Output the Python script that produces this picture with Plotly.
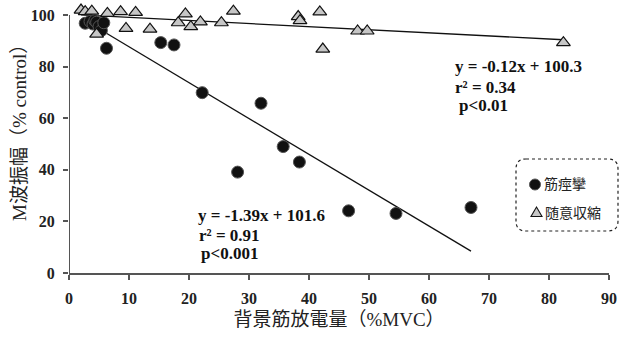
import plotly.graph_objects as go

# 筋痙攣 (cramp) data
cramp_x = [2.7, 3.5, 4.0, 4.3, 4.6, 5.0, 5.4, 5.8, 6.25, 15.3, 17.5, 22.2, 32.0, 35.7, 38.4, 28.1, 46.6, 54.5, 67.0]
cramp_y = [96.8, 97.5, 96.5, 97.8, 97.2, 95.5, 94.0, 97.0, 87.1, 89.3, 88.4, 69.9, 65.8, 49.0, 43.0, 39.1, 24.1, 23.1, 25.4]

# 随意収縮 (voluntary contraction) data
vol_x = [2.0, 2.7, 3.8, 6.4, 8.6, 11.1, 9.5, 13.5, 4.6, 18.2, 19.4, 20.3, 21.9, 25.4, 27.4, 38.2, 38.5, 41.8, 42.3, 48.1, 49.7, 82.4]
vol_y = [101.9, 101.3, 101.5, 100.6, 101.3, 101.0, 94.8, 94.5, 92.6, 97.0, 100.4, 95.5, 97.3, 97.0, 101.5, 99.4, 97.8, 101.2, 86.8, 93.8, 93.8, 89.3]

# Regression coefficients (from the equations shown)
cramp_fit = (-1.39, 101.6)
vol_fit = (-0.12, 100.3)

x_ticks = [0, 10, 20, 30, 40, 50, 60, 70, 80, 90]
y_ticks = [0, 20, 40, 60, 80, 100]

serif = "Liberation Serif"
mixed = "Liberation Serif, Noto Sans CJK JP"
cjk = "Noto Sans CJK JP"

W, H = 619, 338
ML, MR, MT, MB = 69, 10, 7, 65
PW, PH = W - ML - MR, H - MT - MB
YMAX = 100 * PH / 258.0


def px2paper(px, py):
    return (px - ML) / PW, (H - MB - py) / PH


fig = go.Figure()


def fit_line(fit, x0, x1):
    return [x0, x1], [fit[0] * x0 + fit[1], fit[0] * x1 + fit[1]]


lx, ly = fit_line(vol_fit, min(vol_x), max(vol_x))
fig.add_trace(go.Scatter(x=lx, y=ly, mode="lines", line=dict(color="#111", width=1.3),
                         showlegend=False, hoverinfo="skip"))
lx, ly = fit_line(cramp_fit, 4.5, max(cramp_x))
fig.add_trace(go.Scatter(x=lx, y=ly, mode="lines", line=dict(color="#111", width=1.3),
                         showlegend=False, hoverinfo="skip"))

fig.add_trace(go.Scatter(x=cramp_x, y=cramp_y, mode="markers", name="筋痙攣",
                         marker=dict(symbol="circle", size=12, color="#111",
                                     line=dict(color="#555", width=1)),
                         showlegend=False, cliponaxis=False))
fig.add_trace(go.Scatter(x=vol_x, y=vol_y, mode="markers", name="随意収縮",
                         marker=dict(symbol="triangle-up", size=12, color="#c6c6c6",
                                     line=dict(color="#111", width=1.2)),
                         showlegend=False, cliponaxis=False))

ann_font = dict(family=serif, size=17, color="#111", weight="bold")
for txt, x, y in [("y = -0.12x + 100.3", 64.05, 80.0), ("r² = 0.34", 64.05, 72.0),
                  ("p<0.01", 64.6, 64.8),
                  ("y = -1.39x + 101.6", 21.17, 22.2), ("r² = 0.91", 21.4, 14.7),
                  ("p<0.001", 21.7, 7.5)]:
    fig.add_annotation(x=x, y=y, xref="x", yref="y", xanchor="left", yanchor="middle",
                       text=txt, showarrow=False, font=ann_font)

# y-axis line (only from 0 to 100)
fig.add_shape(type="line", xref="x", yref="y", x0=0, x1=0, y0=0, y1=100,
              line=dict(color="#555", width=2))

# dashed rounded legend box
bx0, by1 = px2paper(516, 159)
bx1, by0 = px2paper(618, 231)
rx, ry = 10 / PW, 10 / PH
path = (f"M {bx0+rx},{by1} L {bx1-rx},{by1} Q {bx1},{by1} {bx1},{by1-ry} L {bx1},{by0+ry} "
        f"Q {bx1},{by0} {bx1-rx},{by0} L {bx0+rx},{by0} Q {bx0},{by0} {bx0},{by0+ry} "
        f"L {bx0},{by1-ry} Q {bx0},{by1} {bx0+rx},{by1} Z")
fig.add_shape(type="path", path=path, xref="paper", yref="paper",
              line=dict(color="#222", width=1.2, dash="dot"))

# legend glyphs
cx, cy = px2paper(535, 184.5)
fig.add_shape(type="circle", xref="paper", yref="paper",
              x0=cx - 5.5 / PW, x1=cx + 5.5 / PW, y0=cy - 5.5 / PH, y1=cy + 5.5 / PH,
              fillcolor="#111", line=dict(color="#555", width=1))
tx, ty = px2paper(536.5, 212)
fig.add_shape(type="path", xref="paper", yref="paper",
              path=(f"M {tx - 5.5 / PW},{ty - 4.5 / PH} L {tx + 5.5 / PW},{ty - 4.5 / PH} "
                    f"L {tx},{ty + 5 / PH} Z"),
              fillcolor="#c6c6c6", line=dict(color="#111", width=1.1))
lxp, lyp = px2paper(541.5, 183.5)
fig.add_annotation(x=lxp, y=lyp, xref="paper", yref="paper", xanchor="left", yanchor="middle",
                   text="筋痙攣", showarrow=False, font=dict(family=cjk, size=14, color="#222"))
lxp, lyp = px2paper(543, 211.5)
fig.add_annotation(x=lxp, y=lyp, xref="paper", yref="paper", xanchor="left", yanchor="middle",
                   text="随意収縮", showarrow=False, font=dict(family=cjk, size=14, color="#222"))

# y-axis title
yx, yy = px2paper(19, 128)
fig.add_annotation(x=yx, y=yy, xref="paper", yref="paper", xanchor="center", yanchor="middle",
                   text="M波振幅（% control）", textangle=-90, showarrow=False,
                   font=dict(family=mixed, size=19, color="#222"))

fig.update_layout(
    width=W, height=H,
    margin=dict(l=ML, r=MR, t=MT, b=MB, autoexpand=False),
    paper_bgcolor="white", plot_bgcolor="white",
    showlegend=False,
    xaxis=dict(range=[0, 90], tickvals=x_ticks, ticktext=[str(v) for v in x_ticks],
               showgrid=False, zeroline=False, showline=True, linecolor="#555", linewidth=2,
               ticks="outside", ticklen=5, tickcolor="#555", tickwidth=1.5,
               ticklabelstandoff=5, automargin=False,
               tickfont=dict(family=serif, size=16, color="#222", weight="bold"),
               title=dict(text="背景筋放電量（%MVC）", standoff=6,
                          font=dict(family=mixed, size=19, color="#222"))),
    yaxis=dict(range=[0, YMAX], tickvals=y_ticks, ticktext=[str(v) for v in y_ticks],
               showgrid=False, zeroline=False, showline=False,
               ticks="outside", ticklen=5, tickcolor="#555", tickwidth=1.5,
               ticklabelstandoff=5, automargin=False,
               tickfont=dict(family=serif, size=16, color="#222", weight="bold")),
)

fig.write_html("out.html", config={"displayModeBar": False},
               post_script="document.body.style.margin='0';document.body.style.overflow='hidden';")
